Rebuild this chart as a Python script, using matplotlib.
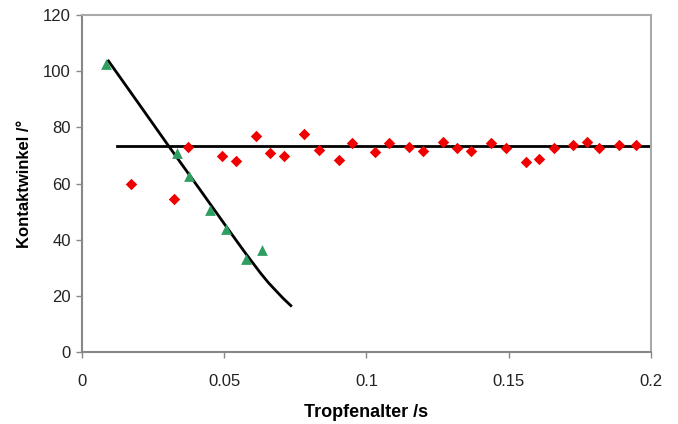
import matplotlib
matplotlib.use('Agg')
import matplotlib.pyplot as plt

plt.rcParams['font.family'] = ['Liberation Sans', 'DejaVu Sans']

# green triangles (fast drop)
tri_x = [0.0084, 0.0333, 0.0377, 0.045, 0.0506, 0.0576, 0.0632]
tri_y = [102.5, 71.0, 62.6, 50.5, 43.9, 33.2, 36.2]

# red diamonds
dia_x = [0.0171, 0.0323, 0.0371, 0.0492, 0.054, 0.0612, 0.0661, 0.071, 0.078,
         0.0832, 0.0902, 0.095, 0.1031, 0.1079, 0.1149, 0.12, 0.127, 0.1319,
         0.1369, 0.1438, 0.1489, 0.156, 0.1608, 0.1659, 0.1727, 0.1776, 0.1818,
         0.1888, 0.1946]
dia_y = [59.9, 54.6, 73.1, 69.8, 68.2, 76.9, 70.8, 69.8, 77.5,
         72.1, 68.3, 74.3, 71.2, 74.5, 72.9, 71.5, 74.9, 72.7,
         71.7, 74.6, 72.7, 67.6, 68.9, 72.6, 73.7, 74.8, 72.7,
         73.7, 73.9]

# fitted curve and plateau line
fit_x = [0.0093, 0.02, 0.0303, 0.0415, 0.0509, 0.0576, 0.0626, 0.0655, 0.068, 0.0707, 0.0734]
fit_y = [103.7, 88.4, 73.6, 57.8, 44.4, 35.0, 28.3, 24.7, 22.0, 19.1, 16.5]
plat_x = [0.0122, 0.2]
plat_y = [73.3, 73.3]

fig = plt.figure(figsize=(6.78, 4.24), dpi=100)
ax = fig.add_axes([0.121, 0.170, 0.839, 0.794])

ax.plot(fit_x, fit_y, color='black', lw=2, zorder=2, solid_joinstyle='round')
ax.plot(plat_x, plat_y, color='black', lw=2, zorder=2)
ax.scatter(tri_x, tri_y, marker='^', s=60, color='#2e9e62', zorder=3, linewidths=0)
ax.scatter(dia_x, dia_y, marker='D', s=34, color='#f00000', zorder=3, linewidths=0)

ax.set_xlim(0, 0.2)
ax.set_ylim(0, 120)
ax.set_xticks([0, 0.05, 0.1, 0.15, 0.2])
ax.set_xticklabels(['0', '0.05', '0.1', '0.15', '0.2'])
ax.set_yticks(range(0, 121, 20))

for s in ['top', 'right']:
    ax.spines[s].set_color('#aaaaaa')
    ax.spines[s].set_linewidth(1.5)
for s in ['left', 'bottom']:
    ax.spines[s].set_color('#888888')
    ax.spines[s].set_linewidth(1.5)
ax.tick_params(color='#888888', length=4, width=1, labelsize=12, labelcolor='#222222')
ax.tick_params(axis='y', pad=4)
ax.tick_params(axis='x', pad=12)

ax.set_xlabel('Tropfenalter /s', fontsize=13, fontweight='bold', labelpad=11)
ax.set_ylabel('Kontaktwinkel /°', fontsize=12, fontweight='bold', labelpad=8)

fig.savefig('out.png', dpi=100)
